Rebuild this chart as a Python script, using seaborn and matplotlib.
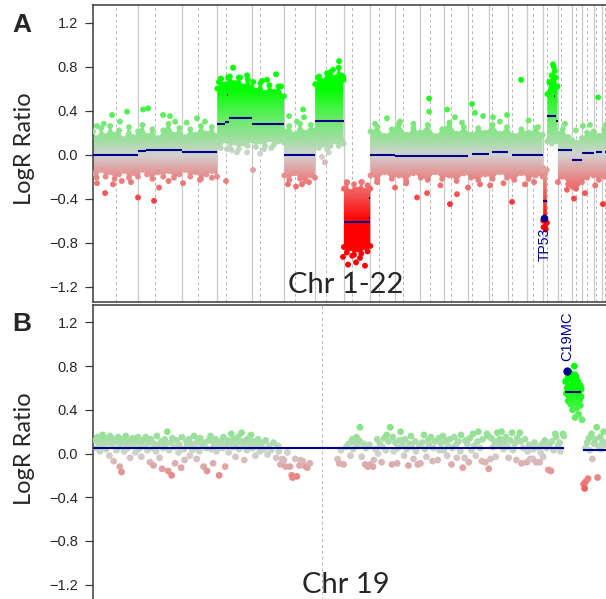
import numpy as np
import pandas as pd
import matplotlib
matplotlib.use('Agg')
import matplotlib.pyplot as plt
import seaborn as sns
from matplotlib.colors import LinearSegmentedColormap, Normalize
from matplotlib.path import Path

sns.set_style('white')
plt.rcParams['font.family'] = ['Liberation Sans', 'DejaVu Sans']

# chromosome sizes / centromeres (Mb)
chrom_len = [249.3, 243.2, 198.0, 191.2, 180.9, 171.1, 159.1, 146.4, 141.2, 135.5, 135.0,
             133.9, 115.2, 107.3, 102.5, 90.4, 81.2, 78.1, 59.1, 63.0, 48.1, 51.3]
centromere = [128.0, 93.3, 91.0, 50.4, 48.4, 58.0, 59.9, 45.6, 49.0, 40.2, 53.7,
              35.8, 17.9, 17.6, 19.0, 36.6, 24.0, 17.2, 26.5, 27.5, 13.2, 14.7]

# segments, panel A (chrom, start Mb, end Mb, mean logR)
seg_chrom = [1, 2, 2, 3, 4, 4, 4, 4, 4, 5, 5, 6, 7, 8, 8, 8, 9, 10, 11, 11, 12, 13, 14, 15, 16,
             17, 17, 17, 17, 18, 19, 20, 21, 22]
seg_start = [0, 0, 45, 0, 0, 45, 67, 55, 52, 0, 0, 0, 0, 0, 142, 142, 0, 0, 0, 54, 0, 19, 19, 20, 0,
             0, 22, 70, 63, 0, 0, 0, 13, 15]
seg_end = [249.3, 45, 243.2, 198.0, 45, 67, 191.2, 57, 54, 180.9, 3, 171.1, 159.1, 146.4, 145, 145,
           141.2, 135.5, 135.0, 56, 133.9, 115.2, 107.3, 102.5, 90.4, 22, 70, 81.2, 65, 78.1, 59.1,
           63.0, 48.1, 51.3]
seg_logr = [0.00, 0.03, 0.045, 0.02, 0.28, 0.30, 0.33, 0.54, 0.11, 0.28, 0.13, 0.00, 0.31, -0.61,
            -0.39, -0.58, 0.00, -0.01, -0.015, 0.18, -0.01, 0.01, 0.025, 0.00, 0.00, -0.42, 0.35,
            0.31, 0.53, 0.04, -0.05, 0.015, 0.025, 0.02]

# dense probe cloud envelope, panel A (genome Mb, upper / lower edge); nan = break
nan = np.nan
env_pos = [0, 20, 45, 70, 95, 120, 145, 170, 200, 225, 250, 275, 300, 330, 360, 390, 420, 450, 480, 510, 540, 570, 600, 630, 660, 689, nan,
           691, 710, 735, 760, 785, 810, 835, 860, 881, 905, 930, 955, 980, 1005, 1030, 1061, nan,
           1063, 1090, 1120, 1150, 1180, 1210, 1233, nan,
           1235, 1255, 1275, 1300, 1320, 1345, 1365, 1380, 1392, nan,
           1394, 1410, 1430, 1450, 1470, 1490, 1510, 1525, 1540, nan,
           1542, 1580, 1620, 1660, 1700, 1740, 1780, 1820, 1860, 1900, 1940, 1980, 2020, 2060, 2100, 2140, 2180, 2220, 2260, 2300, 2340, 2380, 2420, 2460, 2498, nan,
           2501, 2510, 2521, nan,
           2524, 2535, 2548, 2560, 2570, 2581, nan,
           2583, 2610, 2640, 2662, 2690, 2716, 2745, 2780, 2810, 2840, 2881]
env_hi = [.21, .15, .24, .17, .26, .18, .22, .14, .25, .16, .21, .27, .17, .23, .15, .22, .28, .18, .24, .16, .23, .18, .26, .19, .25, .17, nan,
          .60, .69, .64, .71, .65, .70, .62, .68, .61, .58, .65, .56, .63, .57, .62, .53, nan,
          .21, .26, .18, .28, .20, .27, .22, nan,
          .64, .71, .67, .74, .75, .70, .79, .72, .68, nan,
          -.31, -.26, -.34, -.27, -.32, -.25, -.33, -.28, -.31, nan,
          .21, .25, .17, .23, .28, .18, .24, .20, .27, .17, .23, .29, .19, .25, .18, .24, .20, .27, .19, .25, .17, .23, .20, .24, .18, nan,
          -.12, -.18, -.14, nan,
          .55, .66, .72, .80, .70, .62, nan,
          .19, .23, .16, .13, .11, .15, .20, .21, .17, .23, .19]
env_lo = [-.17, -.21, -.14, -.20, -.16, -.22, -.18, -.15, -.21, -.17, -.20, -.14, -.18, -.22, -.16, -.20, -.15, -.21, -.18, -.14, -.20, -.16, -.22, -.18, -.15, -.20, nan,
          .10, .06, .13, .07, .11, .05, .10, .08, .13, .07, .12, .08, .14, .09, .12, .11, nan,
          -.19, -.23, -.17, -.22, -.24, -.19, -.21, nan,
          .10, .06, .09, .05, .08, .12, .08, .13, .10, nan,
          -.84, -.89, -.85, -.91, -.86, -.90, -.84, -.88, -.83, nan,
          -.19, -.23, -.16, -.22, -.19, -.24, -.17, -.21, -.23, -.16, -.22, -.19, -.24, -.17, -.21, -.23, -.18, -.22, -.16, -.21, -.23, -.17, -.22, -.19, -.20, nan,
          -.60, -.66, -.62, nan,
          .12, .15, .10, .14, .12, .15, nan,
          -.25, -.20, -.27, -.29, -.27, -.25, -.21, -.19, -.23, -.20, -.21]

# scattered probes outside the dense cloud, panel A
out_pos = [22, 106, 189, 278, 306, 389, 428, 578, 150, 456, 622, 60, 520,
           711, 778, 856, 939, 967, 1017, 817, 750, 700, 890, 1045,
           744, 800, 856, 928, 950, 739, 889, 770, 990,
           1089, 1167, 1172, 1133,
           22, 67, 111, 211, 250, 339, 367, 500, 594, 661, 160, 420,
           1083, 1128, 1161, 1200,
           1250, 1333, 1367, 1389, 1289, 1272, 1310,
           1417, 1511, 1389, 1483, 1461, 1411, 1494, 1440,
           1867, 1867, 1967, 2106, 2122, 2167, 2222, 2300, 2378, 2472, 1633, 2011, 1567, 1706, 1780, 2050, 2260, 2420,
           1800, 1856, 1983, 2022, 2328, 1578, 1678, 2083, 2206, 2400, 1740, 1930, 2150, 2280, 2450,
           2806, 2722, 2683, 2622, 2761, 2850,
           2672, 2683, 2833, 2633, 2733, 2790,
           2503, 2515, 2555, 2566]
out_logr = [.26, .36, .39, .41, .42, .36, .35, .33, .30, .30, .30, .28, .29,
            .69, .79, .72, .67, .68, .73, .70, .70, .66, .66, .62,
            .05, .02, .02, .01, .05, -.24, -.14, .04, .06,
            .35, .41, .34, .30,
            -.26, -.35, -.27, -.25, -.39, -.42, -.30, -.26, -.23, -.21, -.24, -.24,
            -.27, -.29, -.27, -.25,
            .70, .77, .85, .71, -.07, -.02, .02,
            -1.0, -1.01, -.93, -.94, -.98, -.25, -.25, -.92,
            .51, .39, .41, .46, .38, .35, .34, .36, .68, .25, .33, .34, .28, .30, .28, .29, .30, .31,
            -.39, -.35, -.45, -.36, -.43, -.25, -.30, -.30, -.28, -.27, -.26, -.28, -.27, -.26, -.25,
            .52, .26, .22, .28, .27, .27,
            -.40, -.31, -.45, -.32, -.35, -.28,
            -.66, -.68, .82, .76]

tp53_chrom, tp53_pos, tp53_logr = 17, 7.5, -0.58

# panel B: chromosome 19 probes (Mb, logR)
chr19_pos = [0.3, 0.4, 0.5, 0.7, 0.8, 0.9, 1.1, 1.2, 1.3, 1.5, 1.6, 1.8, 1.9, 2.0, 2.2, 2.3, 2.4, 2.6, 2.7, 2.9,
             3.0, 3.1, 3.2, 3.3, 3.4, 3.6, 3.7, 3.8, 4.0, 4.1, 4.3, 4.4, 4.6, 4.7, 4.9, 5.0, 5.2, 5.3, 5.5, 5.6,
             5.8, 6.0, 6.1, 6.3, 6.4, 6.6, 6.7, 6.9, 7.0, 7.1, 7.3, 7.4, 7.5, 7.7, 7.9, 8.0, 8.1, 8.3, 8.4, 8.6,
             8.7, 8.8, 9.0, 9.1, 9.2, 9.4, 9.5, 9.7, 9.9, 10.0, 10.2, 10.3, 10.5, 10.6, 10.8, 10.9, 11.1, 11.2,
             11.4, 11.5, 11.7, 11.8, 12.0, 12.1, 12.3, 12.4, 12.6, 12.8, 12.9, 13.1, 13.2, 13.4, 13.6, 13.7,
             13.9, 14.0, 14.2, 14.3, 14.5, 14.6, 14.8, 15.0, 15.1, 15.3, 15.4, 15.6, 15.7, 15.9, 16.0, 16.2,
             16.3, 16.5, 16.6, 16.8, 16.9, 17.1, 17.2, 17.4, 17.5, 17.7, 17.8, 18.0, 18.1, 18.3, 18.5, 18.6,
             18.8, 18.9, 19.1, 19.3, 19.4, 19.6, 19.8, 20.0, 20.2, 20.4, 20.6, 20.9,
             21.2, 21.4, 21.5, 21.7, 21.9, 22.1, 22.3, 22.5, 22.8, 23.0, 23.1, 23.4, 23.6, 23.9, 24.0, 24.3, 24.6, 24.8, 25.1,
             28.3, 28.5, 28.7, 29.0, 29.3, 29.6, 29.8, 30.0, 30.1, 30.3, 30.5, 30.6, 30.8, 30.9, 31.1, 31.3, 31.5,
             31.6, 31.8, 32.0, 32.1, 32.4, 32.5, 32.7, 32.9, 33.0, 33.2, 33.4, 33.5, 33.7, 33.9, 34.0, 34.2, 34.4,
             34.6, 34.7, 34.8, 35.0, 35.2, 35.3, 35.5, 35.6, 35.8, 36.0, 36.1, 36.3, 36.5, 36.6, 36.8, 36.9, 37.1,
             37.3, 37.4, 37.6, 37.8, 37.9, 38.1, 38.3, 38.4, 38.6, 38.8, 38.9, 39.1, 39.3, 39.4, 39.6, 39.9, 40.0,
             40.1, 40.3, 40.5, 40.6, 40.8, 41.0, 41.1, 41.3, 41.5, 41.6, 41.8, 42.0, 42.1, 42.3, 42.5, 42.6, 42.8,
             43.0, 43.1, 43.3, 43.5, 43.6, 43.8, 44.0, 44.1, 44.3, 44.5, 44.6, 44.8, 45.0, 45.1, 45.4, 45.6, 45.7,
             45.8, 46.0, 46.1, 46.3, 46.5, 46.6, 46.8, 47.0, 47.1, 47.3, 47.5, 47.6, 47.8, 48.0, 48.1, 48.3, 48.5,
             48.6, 48.8, 49.0, 49.1, 49.4, 49.5, 49.6, 49.8, 50.0, 50.2, 50.3, 50.5, 50.6, 50.9, 51.0, 51.1, 51.3,
             51.5, 51.7, 51.8, 52.0, 52.1, 52.3, 52.5, 52.7, 52.8, 53.0, 53.1, 53.3, 53.5, 53.6, 53.8, 54.0, 54.1,
             54.4, 54.5,
             54.7, 54.8, 54.9, 55.0, 55.0, 55.1, 55.2, 55.3, 55.3, 55.4, 55.5, 55.5, 55.6, 55.7, 55.8, 55.8, 55.9,
             56.0, 56.0, 56.1, 56.2, 56.2, 56.3, 56.4, 56.4, 56.5, 56.6, 55.7, 55.9, 55.2, 56.3, 55.4, 56.1, 55.8, 56.5,
             56.8, 56.9, 57.0, 57.0, 57.2, 57.3, 57.4, 57.5, 57.7, 57.8, 58.0, 58.1, 58.3, 58.4, 58.5, 58.7, 58.8,
             59.0, 59.1, 59.3]
chr19_logr = [.12, .05, .15, .09, .02, .13, .17, .07, .11, .04, .14, .10, -.02, .16, .08, .13, -.07, .11, .03, .15,
              .06, -.12, .10, -.17, .13, .02, .09, .16, .05, .12, -.04, .10, .14, .07, .01, .11, .15, .04, .09, -.03,
              .12, .06, .15, .03, .10, -.08, .13, .05, -.11, .09, .02, .16, .07, -.04, .11, -.14, .05, .13, .08, .20,
              -.16, .03, .10, -.20, .14, .06, -.09, .12, .01, .08, -.13, .15, .04, -.06, .11, .07, .13, -.02,
              .09, .03, .16, .06, -.05, .11, .02, .14, .08, -.12, .10, .05, -.16, .12, .16, .04,
              -.09, .09, .13, .02, .07, -.20, .11, .05, .15, -.12, .08, .12, .01, .10, .18, .06,
              .13, -.03, .09, .15, .04, .11, .19, .07, -.06, .12, .03, .14, .09, .17, .05, .11,
              -.02, .08, .13, .02, .06, .10, .04, .12, -.01, .07, .03, .10,
              -.04, .07, .02, -.10, -.05, -.06, -.12, .01, -.12, -.20, -.22, -.05, -.21, -.11, -.06, -.07, -.12, -.13, -.09,
              -.05, -.09, .03, -.10, .06, .09, -.02, .13, .04, .10, .15, .07, .12, .24, -.03, .09, -.10,
              .05, -.12, .08, -.10, -.12, -.06, .04, .13, .00, .09, -.08, .06, .14, .03, .17, .11, .24,
              -.10, .15, .02, .10, -.09, .05, .12, .20, .08, -.02, .13, .04, -.11, .09, .16, .06, -.05,
              .11, .02, -.10, .07, -.09, .10, .17, .04, -.03, .12, .08, .15, -.07, .05, .11, -.06, .14,
              .03, .09, .16, .03, .12, -.02, .07, .13, -.10, .05, .15, .08, -.04, .11, .02, .17, -.13,
              -.04, .12, .09, -.08, .14, .03, .18, .07, -.02, .11, .20, .05, -.07, .13, -.08, .18, .16,
              -.14, -.05, .14, .06, .11, -.03, .19, .08, .13, .20, .04, .10, .15, .06, -.04, .12, .19,
              .03, .09, -.06, .14, .19, .11, -.09, .05, .13, -.08, .02, .08, -.05, -.05, .04, .10, -.08,
              .06, -.08, .01, .09, -.03, .12, .05, -.15, .08, -.16, .11, .03, .18, .15, .07, .10, .02,
              .18, .16,
              .66, .55, .60, .48, .70, .52, .62, .45, .58, .68, .50, .40, .63, .55, .72, .47, .60,
              .53, .42, .66, .57, .36, .49, .62, .44, .52, .31, .80, .70, .74, .57, .51, .46, .33, .59,
              -.28, -.32, -.26, .05, .10, -.23, .14, .03, .18, -.05, .09, .13, .24, -.22, .07, .15, .04,
              .11, .20, .08]

chr19_seg_start = [0.0, 54.6, 56.7]
chr19_seg_end = [54.5, 56.5, 60.0]
chr19_seg_logr = [0.05, 0.56, 0.035]
c19mc_pos, c19mc_logr = 54.9, 0.76

# ------------------------------------------------------------------
offsets = np.concatenate([[0], np.cumsum(chrom_len)[:-1]])
genome_len = float(np.sum(chrom_len))

cmap = LinearSegmentedColormap.from_list('logr', [
    (0.00, '#ff0000'), (0.25, '#f06a6a'), (0.4167, '#ddadad'), (0.5, '#d2d2d2'),
    (0.5833, '#acdcac'), (0.75, '#72ea72'), (1.00, '#00ff00')])
norm = Normalize(-0.6, 0.6)
navy = '#00008b'
spine_col = '#3a3a3a'

W, H = 606, 599
fig = plt.figure(figsize=(W / 100, H / 100), dpi=100)
axA = fig.add_axes([93 / W, 1 - 302 / H, 518.6 / W, 297 / H])
axB = fig.add_axes([93 / W, 1 - 602 / H, 518.4 / W, 297 / H])

# ---------------- panel A ----------------
for i in range(len(chrom_len)):
    if i > 0:
        axA.axvline(offsets[i], color='#c8c8c8', lw=0.9, zorder=1)
    axA.axvline(offsets[i] + centromere[i], color='#b4b4b4', lw=0.7, ls=(0, (3, 3)), zorder=1)

grad = np.linspace(-1.4, 1.4, 500).reshape(-1, 1)
im = axA.imshow(grad, cmap=cmap, norm=norm, extent=(0, genome_len, -1.4, 1.4),
                origin='lower', aspect='auto', interpolation='bilinear', zorder=2)
poly = axA.fill_between(env_pos, env_lo, env_hi, facecolor='none', edgecolor='none')
clip = Path.make_compound_path(*poly.get_paths())
im.set_clip_path(clip, axA.transData)

env = pd.DataFrame({'pos': env_pos, 'hi': env_hi, 'lo': env_lo}).dropna()
ptsA = pd.concat([
    pd.DataFrame({'pos': out_pos, 'logr': out_logr}),
    pd.DataFrame({'pos': env['pos'], 'logr': env['hi']}),
    pd.DataFrame({'pos': env['pos'], 'logr': env['lo']}),
], ignore_index=True)
sns.scatterplot(data=ptsA, x='pos', y='logr', hue='logr', palette=cmap, hue_norm=norm,
                s=18, linewidth=0, legend=False, ax=axA, zorder=3)

segA = pd.DataFrame({'chrom': seg_chrom, 'start': seg_start, 'end': seg_end, 'logr': seg_logr})
segA['g0'] = segA['start'] + offsets[segA['chrom'] - 1]
segA['g1'] = segA['end'] + offsets[segA['chrom'] - 1]
axA.hlines(segA['logr'], segA['g0'], segA['g1'], color=navy, lw=1.5, zorder=4)

tp53_x = offsets[tp53_chrom - 1] + tp53_pos
axA.scatter([tp53_x], [tp53_logr], s=30, color=navy, zorder=5, linewidth=0)
axA.text(tp53_x, tp53_logr - 0.085, 'TP53', rotation=90, ha='center', va='top',
         color=navy, fontsize=10)

axA.set_xlim(0, genome_len)
axA.set_ylim(-1.34, 1.36)
axA.set_xticks(offsets + np.array(chrom_len) / 2)
axA.tick_params(axis='x', length=3, width=0.8, color=spine_col, labelbottom=False, direction='out')
axA.text(0.488, 0.03, 'Chr 1-22', transform=axA.transAxes, ha='center', va='baseline',
         fontsize=21, family='Lato')

# ---------------- panel B ----------------
axB.axvline(centromere[18], color='#b4b4b4', lw=0.7, ls=(0, (3, 3)), zorder=1)
ptsB = pd.DataFrame({'pos': chr19_pos, 'logr': chr19_logr})
sns.scatterplot(data=ptsB, x='pos', y='logr', hue='logr', palette=cmap, hue_norm=norm,
                s=24, linewidth=0, legend=False, ax=axB, zorder=3)
axB.hlines(chr19_seg_logr, chr19_seg_start, chr19_seg_end, color=navy, lw=1.5, zorder=4)
axB.scatter([c19mc_pos], [c19mc_logr], s=36, color=navy, zorder=5, linewidth=0)
axB.text(c19mc_pos, c19mc_logr + 0.085, 'C19MC', rotation=90, ha='center', va='bottom',
         color=navy, fontsize=10.5)
axB.set_xlim(0, 60)
axB.set_ylim(-1.36, 1.36)
axB.set_xticks([])
axB.text(0.488, 0.03, 'Chr 19', transform=axB.transAxes, ha='center', va='baseline',
         fontsize=21, family='Lato')

# ---------------- shared styling ----------------
yt = [-1.2, -0.8, -0.4, 0.0, 0.4, 0.8, 1.2]
for ax in (axA, axB):
    ax.set_yticks(yt)
    ax.set_yticklabels([f'{v:.1f}'.replace('-', '\u2212') for v in yt], fontsize=10.5)
    ax.tick_params(axis='y', length=6, width=0.9, color=spine_col, pad=5, direction='out', left=True)
    ax.set_xlabel('')
    ax.set_ylabel('LogR Ratio', fontsize=17, family='Lato')
    ax.yaxis.set_label_coords(-0.112, 0.517)
    for side in ('left', 'top', 'bottom', 'right'):
        ax.spines[side].set_color(spine_col)
        ax.spines[side].set_linewidth(1.1)

fig.text(12 / W, 1 - 32 / H, 'A', fontsize=19, fontweight='bold', va='baseline')
fig.text(12 / W, 1 - 331 / H, 'B', fontsize=19, fontweight='bold', va='baseline')

fig.savefig('out.png', dpi=100)
